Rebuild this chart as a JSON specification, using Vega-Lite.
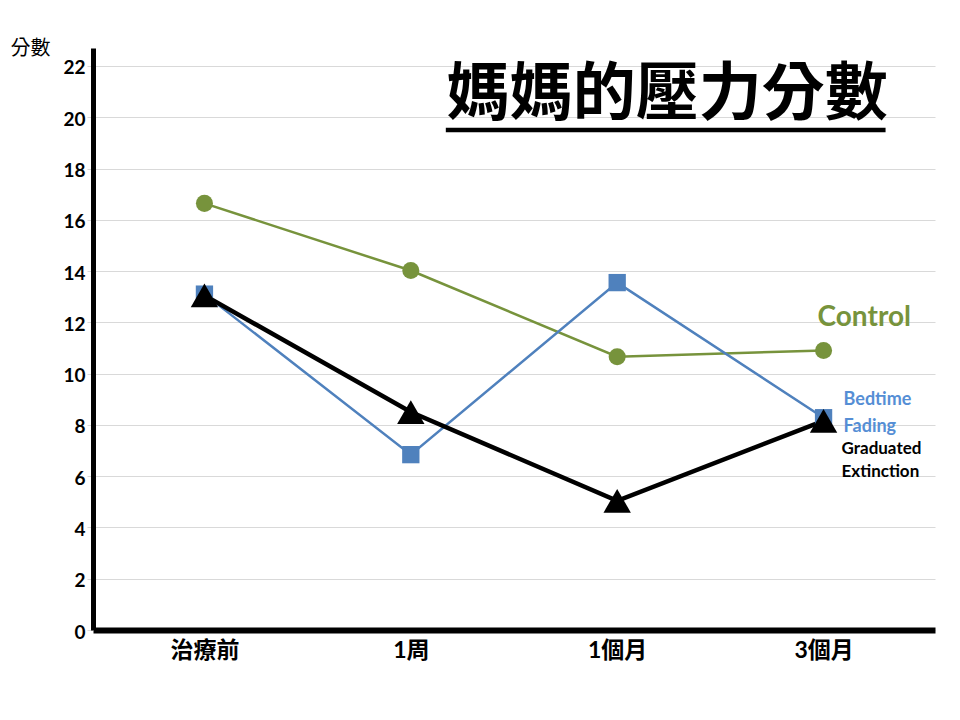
{
  "$schema": "https://vega.github.io/schema/vega-lite/v6.json",
  "width": 842,
  "height": 582,
  "autosize": "none",
  "padding": {"left": 93, "top": 48, "right": 25, "bottom": 90},
  "background": "white",
  "config": {
    "view": {"stroke": null},
    "font": "Lato, Noto Sans CJK TC"
  },
  "datasets": {
    "scores": [
      {"time": "治療前", "group": "Control", "score": 16.64},
      {"time": "1周", "group": "Control", "score": 14.02},
      {"time": "1個月", "group": "Control", "score": 10.66},
      {"time": "3個月", "group": "Control", "score": 10.9},
      {"time": "治療前", "group": "Bedtime Fading", "score": 13.1},
      {"time": "1周", "group": "Bedtime Fading", "score": 6.84},
      {"time": "1個月", "group": "Bedtime Fading", "score": 13.55},
      {"time": "3個月", "group": "Bedtime Fading", "score": 8.28},
      {"time": "治療前", "group": "Graduated Extinction", "score": 13.05},
      {"time": "1周", "group": "Graduated Extinction", "score": 8.5},
      {"time": "1個月", "group": "Graduated Extinction", "score": 5.04},
      {"time": "3個月", "group": "Graduated Extinction", "score": 8.16}
    ]
  },
  "encoding": {
    "x": {
      "field": "time",
      "type": "ordinal",
      "scale": {"type": "point", "padding": 0.54, "domain": ["治療前", "1周", "1個月", "3個月"]},
      "axis": {
        "title": null,
        "labelAngle": 0,
        "labelFont": "Lato, Noto Sans CJK TC",
        "labelFontSize": 23,
        "labelFontWeight": "bold",
        "labelColor": "black",
        "labelPadding": 9,
        "ticks": false,
        "grid": false,
        "domainColor": "black",
        "domainWidth": 6
      }
    },
    "y": {
      "field": "score",
      "type": "quantitative",
      "scale": {"domain": [0, 22.7], "nice": false, "zero": true},
      "axis": {
        "values": [0, 2, 4, 6, 8, 10, 12, 14, 16, 18, 20, 22],
        "title": "分數",
        "titleAngle": 0,
        "titleX": -83,
        "titleY": 0,
        "titleAlign": "left",
        "titleBaseline": "middle",
        "titleFont": "Noto Sans CJK TC",
        "titleFontSize": 20,
        "titleFontWeight": "normal",
        "titleColor": "black",
        "labelFont": "Lato",
        "labelFontSize": 19,
        "labelFontWeight": "bold",
        "labelColor": "black",
        "labelPadding": 2,
        "labelOffset": 2,
        "tickColor": "#D9D9D9",
        "tickSize": 6,
        "gridColor": "#D9D9D9",
        "domainColor": "black",
        "domainWidth": 5
      }
    }
  },
  "layer": [
    {
      "data": {"name": "scores"},
      "mark": {"type": "line"},
      "encoding": {
        "color": {
          "field": "group",
          "type": "nominal",
          "scale": {
            "domain": ["Control", "Bedtime Fading", "Graduated Extinction"],
            "range": ["#77933C", "#4F81BD", "#000000"]
          },
          "legend": null
        },
        "strokeWidth": {
          "field": "group",
          "type": "nominal",
          "scale": {
            "type": "ordinal",
            "domain": ["Control", "Bedtime Fading", "Graduated Extinction"],
            "range": [2.5, 2.5, 4.5]
          },
          "legend": null
        }
      }
    },
    {
      "data": {"name": "scores"},
      "mark": {"type": "point", "filled": true, "opacity": 1},
      "encoding": {
        "color": {"field": "group", "type": "nominal", "legend": null},
        "shape": {
          "field": "group",
          "type": "nominal",
          "scale": {
            "domain": ["Control", "Bedtime Fading", "Graduated Extinction"],
            "range": ["circle", "square", "triangle-up"]
          },
          "legend": null
        },
        "size": {
          "field": "group",
          "type": "nominal",
          "scale": {
            "type": "ordinal",
            "domain": ["Control", "Bedtime Fading", "Graduated Extinction"],
            "range": [290, 300, 750]
          },
          "legend": null
        }
      }
    },
    {
      "data": {"values": [{"time": "3個月", "score": 12.16, "line": "Control"}]},
      "mark": {"type": "text", "align": "left", "baseline": "middle", "fontWeight": "bold", "font": "Lato", "fontSize": 28, "dx": -6, "color": "#77933C"},
      "encoding": {"text": {"field": "line"}}
    },
    {
      "data": {"values": [
        {"time": "3個月", "score": 8.97, "line": "Bedtime"},
        {"time": "3個月", "score": 7.91, "line": "Fading"}
      ]},
      "mark": {"type": "text", "align": "left", "baseline": "middle", "fontWeight": "bold", "font": "Lato", "fontSize": 18, "dx": 20, "color": "#558ED5"},
      "encoding": {"text": {"field": "line"}}
    },
    {
      "data": {"values": [
        {"time": "3個月", "score": 7.06, "line": "Graduated"},
        {"time": "3個月", "score": 6.16, "line": "Extinction"}
      ]},
      "mark": {"type": "text", "align": "left", "baseline": "middle", "fontWeight": "bold", "font": "Lato", "fontSize": 17, "dx": 18, "color": "black"},
      "encoding": {"text": {"field": "line"}}
    },
    {
      "data": {"values": [{"time": "1個月", "score": 20.86, "label": "媽媽的壓力分數"}]},
      "mark": {"type": "text", "align": "center", "baseline": "middle", "dx": 50, "fontSize": 63, "font": "Noto Sans CJK TC", "fontWeight": "bold", "color": "black"},
      "encoding": {"text": {"field": "label"}}
    },
    {
      "data": {"values": [{"time": "1周", "time2": "3個月", "score": 19.5}]},
      "mark": {"type": "rule", "color": "black", "strokeWidth": 4.5, "xOffset": 35, "x2Offset": 62},
      "encoding": {"x2": {"field": "time2"}}
    }
  ]
}
